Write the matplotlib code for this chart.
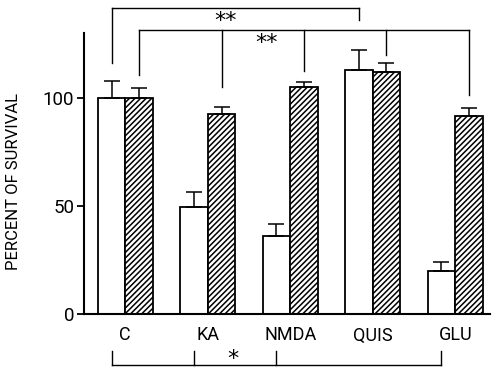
import matplotlib.pyplot as plt
import numpy as np

groups = ["C", "KA", "NMDA", "QUIS", "GLU"]
open_vals = [100, 49.5, 36, 113, 20]
open_err = [8, 7, 5.6, 9, 4]
hatch_vals = [100, 92.6, 105, 112, 91.7]
hatch_err = [4.6, 3.2, 2.2, 4, 3.7]

# significance brackets: (bar index, "open"/"hatch") pairs and drop-line ends
top1_bars = [(0, "open"), (3, "open")]
top1_ends = [116, 136]
top2_bars = [(0, "hatch"), (1, "hatch"), (2, "hatch"), (3, "hatch"), (4, "hatch")]
top2_ends = [110.6, 105, 112.5, 120, 101.4]
bottom_bars = [0, 1, 2, 4]

plt.rcParams["font.family"] = ["Roboto", "DejaVu Sans"]
plt.rcParams["hatch.linewidth"] = 1.1

fig = plt.figure(figsize=(4.98, 3.70), dpi=100)
ax = fig.add_axes([0.1687, 0.1514, 0.815, 0.7594])

w = 1 / 3
x = np.arange(len(groups))
xo = x - w / 2
xh = x + w / 2

ax.bar(xo, open_vals, w, color="white", edgecolor="black", linewidth=1.3)
ax.bar(xh, hatch_vals, w, color="white", edgecolor="black", linewidth=1.3,
       hatch="//////")
ax.errorbar(xo, open_vals, yerr=[np.zeros(5), open_err], fmt="none",
            ecolor="black", elinewidth=1.1, capsize=6, capthick=1.1)
ax.errorbar(xh, hatch_vals, yerr=[np.zeros(5), hatch_err], fmt="none",
            ecolor="black", elinewidth=1.1, capsize=6, capthick=1.1)

ax.set_xlim(-0.5, 4.42)
ax.set_ylim(0, 130)
ax.set_yticks([0, 50, 100])
ax.set_xticks(x)
ax.set_xticklabels(groups)
ax.tick_params(axis="x", length=0, pad=9, labelsize=13)
ax.tick_params(axis="y", length=5, width=1.3, direction="out", pad=2,
               labelsize=13.5)
for s in ["top", "right"]:
    ax.spines[s].set_visible(False)
ax.spines["left"].set_linewidth(1.5)
ax.spines["bottom"].set_linewidth(1.5)
ax.set_ylabel("PERCENT OF SURVIVAL", fontsize=12)
ax.yaxis.set_label_coords(-0.155, 0.47)


def pos(i, kind):
    return xo[i] if kind == "open" else xh[i]


kw = dict(color="black", linewidth=1.0, clip_on=False)

# bracket 1
xs = [pos(i, k) for i, k in top1_bars]
y1 = 141.7
ax.plot([xs[0], xs[-1]], [y1, y1], **kw)
for xx, ye in zip(xs, top1_ends):
    ax.plot([xx, xx], [y1, ye], **kw)
ax.text(1.22, 135.5, "**", ha="center", va="center", fontsize=16,
        family="DejaVu Sans")

# bracket 2
xs = [pos(i, k) for i, k in top2_bars]
y2 = 131.5
ax.plot([xs[0], xs[-1]], [y2, y2], **kw)
for xx, ye in zip(xs, top2_ends):
    ax.plot([xx, xx], [y2, ye], **kw)
ax.text(1.71, 125.5, "**", ha="center", va="center", fontsize=16,
        family="DejaVu Sans")

# bottom bracket
xs = [xo[i] for i in bottom_bars]
yb = -23.6
ax.plot([xs[0], xs[-1]], [yb, yb], **kw)
for xx in xs:
    ax.plot([xx, xx], [yb, -17], **kw)
ax.text(1.31, -21, "*", ha="center", va="center", fontsize=16,
        family="DejaVu Sans")

fig.savefig("out.png", dpi=100)
